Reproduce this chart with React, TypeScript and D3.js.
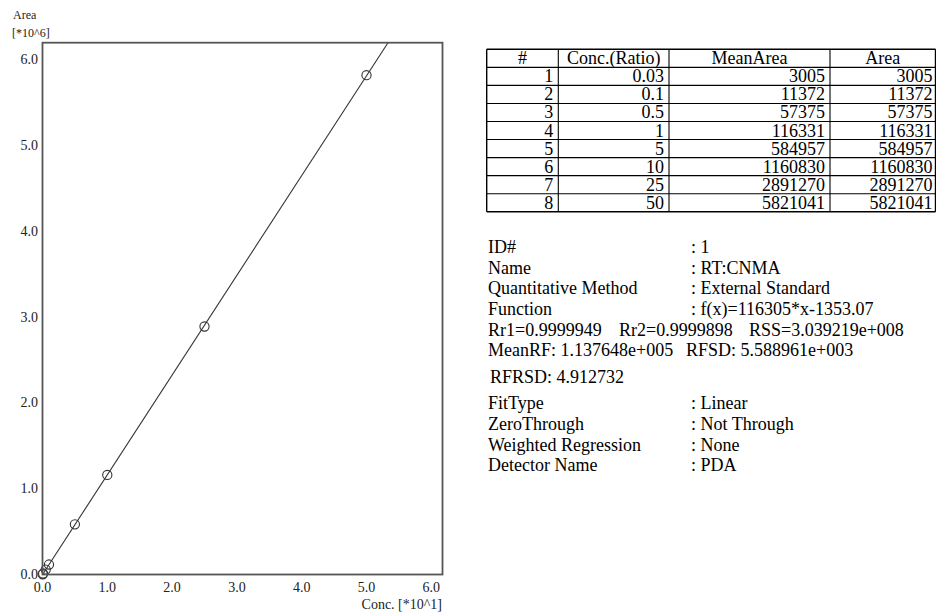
import React from "react";
import * as d3 from "d3";

const concRatio = [0.03, 0.1, 0.5, 1, 5, 10, 25, 50];
const concLabels = ["0.03", "0.1", "0.5", "1", "5", "10", "25", "50"];
const meanArea = [3005, 11372, 57375, 116331, 584957, 1160830, 2891270, 5821041];
const areaValues = [3005, 11372, 57375, 116331, 584957, 1160830, 2891270, 5821041];
const xTicks = [0, 1, 2, 3, 4, 5, 6];
const yTicks = [0, 1, 2, 3, 4, 5, 6];
const slope = 116305;
const intercept = -1353.07;
const tableHeaders = ["#", "Conc.(Ratio)", "MeanArea", "Area"];

const infoLines1 = [
  ["ID#", ": 1"],
  ["Name", ": RT:CNMA"],
  ["Quantitative Method", ": External Standard"],
  ["Function", ": f(x)=116305*x-1353.07"],
];
const infoLines2 = [
  ["FitType", ": Linear"],
  ["ZeroThrough", ": Not Through"],
  ["Weighted Regression", ": None"],
  ["Detector Name", ": PDA"],
];

const FONT = "'Liberation Serif', 'Times New Roman', serif";

export default function App() {
  const left = 42.5, right = 442.5, top = 42.7, bottom = 574.5;
  const x = d3.scaleLinear().domain([0, 6.173]).range([left, right]);
  const y = d3.scaleLinear().domain([0, 6.2]).range([bottom, top]);

  // regression line, in display units (conc/10, area/1e6)
  const fx = (c: number) => (slope * c + intercept) / 1e6;
  const cTop = (6.2 * 1e6 - intercept) / slope; // conc where line hits top
  const cZero = -intercept / slope;
  const lineGen = d3.line<number>().x((c) => x(c / 10)).y((c) => y(fx(c)));
  const linePath = lineGen([cZero, cTop]) || "";

  const colX = [486.7, 558.3, 669, 830, 935.5];
  const rowTop = 49.3;
  const rowH = 18.05;
  const nRows = concRatio.length + 1;

  const textBaselines1 = [253.3, 273.8, 294.3, 315];
  const textBaselines2 = [409, 430, 450.5, 471];

  return (
    <svg
      width={936}
      height={613}
      style={{ position: "fixed", left: 0, top: 0, background: "#fff" }}
      fontFamily={FONT}
    >
      <rect x={0} y={0} width={936} height={613} fill="#fff" />
      {/* axis titles */}
      <text x={13} y={19} fontSize={12} fill="#222">Area</text>
      <text x={12} y={36.5} fontSize={12} fill="#222">[*10^6]</text>
      <text x={442} y={609} fontSize={14} fill="#222" textAnchor="end">Conc. [*10^1]</text>

      <defs>
        <clipPath id="plotclip">
          <rect x={left} y={top} width={right - left} height={bottom - top} />
        </clipPath>
      </defs>

      {/* tick labels */}
      {yTicks.map((t) => (
        <text key={"y" + t} x={38} y={y(t) + 4.5} fontSize={14} fill="#222" textAnchor="end">
          {t.toFixed(1)}
        </text>
      ))}
      {xTicks.map((t) => (
        <text key={"x" + t} x={x(t)} y={592} fontSize={14} fill="#222" textAnchor="middle">
          {t.toFixed(1)}
        </text>
      ))}

      {/* regression line */}
      <path d={linePath} stroke="#333" strokeWidth={1.1} fill="none" clipPath="url(#plotclip)" />

      {/* data points */}
      {concRatio.map((c, i) => (
        <circle
          key={i}
          cx={x(c / 10)}
          cy={y(meanArea[i] / 1e6)}
          r={4.6}
          fill="none"
          stroke="#333"
          strokeWidth={1.1}
        />
      ))}

      {/* frame */}
      <rect x={left} y={top} width={right - left} height={bottom - top} fill="none" stroke="#555" strokeWidth={1.8} />

      {/* table */}
      <g fontSize={18} fill="#000">
        {d3.range(nRows + 1).map((r) => (
          <line
            key={"h" + r}
            x1={colX[0]}
            x2={colX[colX.length - 1]}
            y1={rowTop + r * rowH}
            y2={rowTop + r * rowH}
            stroke="#000"
            strokeWidth={r === 0 || r === nRows ? 1.4 : 1.1}
          />
        ))}
        {colX.map((cx, i) => (
          <line
            key={"v" + i}
            x1={cx}
            x2={cx}
            y1={rowTop}
            y2={rowTop + nRows * rowH}
            stroke="#000"
            strokeWidth={i === 0 || i === colX.length - 1 ? 1.4 : 1.1}
          />
        ))}
        {tableHeaders.map((h, i) => (
          <text key={"th" + i} x={(colX[i] + colX[i + 1]) / 2} y={rowTop + 14.5} textAnchor="middle">
            {h}
          </text>
        ))}
        {concRatio.map((c, i) => {
          const by = rowTop + (i + 1) * rowH + 15;
          return (
            <g key={"row" + i}>
              <text x={colX[1] - 5} y={by} textAnchor="end">{String(i + 1)}</text>
              <text x={colX[2] - 5} y={by} textAnchor="end">{concLabels[i]}</text>
              <text x={colX[3] - 5} y={by} textAnchor="end">{String(meanArea[i])}</text>
              <text x={colX[4] - 3} y={by} textAnchor="end">{String(areaValues[i])}</text>
            </g>
          );
        })}
      </g>

      {/* info block */}
      <g fontSize={18} fill="#000">
        {infoLines1.map((l, i) => (
          <g key={"i1" + i}>
            <text x={488} y={textBaselines1[i]}>{l[0]}</text>
            <text x={691} y={textBaselines1[i]}>{l[1]}</text>
          </g>
        ))}
        <text x={488} y={335.8}>Rr1=0.9999949</text>
        <text x={619} y={335.8}>Rr2=0.9999898</text>
        <text x={749} y={335.8}>RSS=3.039219e+008</text>
        <text x={488} y={356.3}>MeanRF: 1.137648e+005</text>
        <text x={686} y={356.3}>RFSD: 5.588961e+003</text>
        <text x={490} y={382.5}>RFRSD: 4.912732</text>
        {infoLines2.map((l, i) => (
          <g key={"i2" + i}>
            <text x={488} y={textBaselines2[i]}>{l[0]}</text>
            <text x={691} y={textBaselines2[i]}>{l[1]}</text>
          </g>
        ))}
      </g>
    </svg>
  );
}
